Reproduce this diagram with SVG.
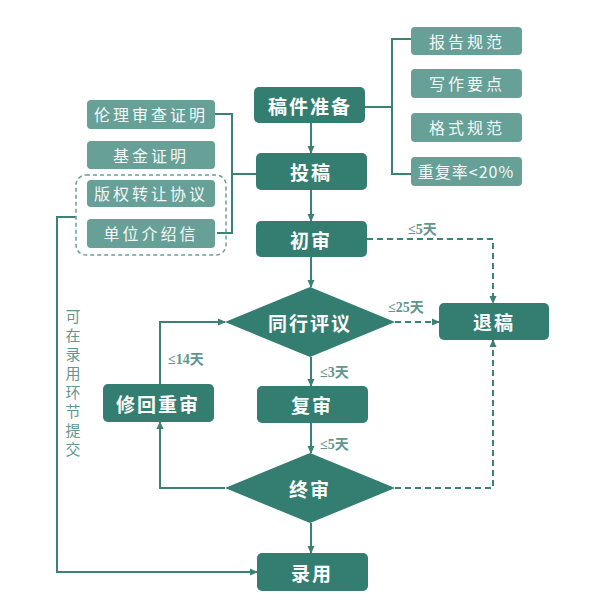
<svg xmlns="http://www.w3.org/2000/svg" width="594" height="613" viewBox="0 0 594 613">
<defs>
<style>
.main{fill:#337d71}
.side{fill:#67a097}
.mt{font-family:"Noto Sans CJK SC",sans-serif;font-weight:bold;font-size:19px;fill:#ffffff;text-anchor:middle;dominant-baseline:central;letter-spacing:2px}
.st{font-family:"Noto Sans CJK SC",sans-serif;font-size:16px;fill:#f4f8f7;text-anchor:middle;dominant-baseline:central;letter-spacing:3px}
.lb{font-family:"Liberation Serif","Noto Sans CJK SC",serif;font-weight:bold;font-size:14px;fill:#5f968d;dominant-baseline:central}
.vt{font-family:"Noto Sans CJK SC",sans-serif;font-size:15px;fill:#5f968d;text-anchor:middle}
.ln{fill:none;stroke:#3b8174;stroke-width:2}
.ds{fill:none;stroke:#3b8174;stroke-width:2;stroke-dasharray:6,4}
</style>
<marker id="ar" markerWidth="8" markerHeight="8" refX="7" refY="4" orient="auto" markerUnits="userSpaceOnUse">
<path d="M0,0.5 L8,4 L0,7.5 Z" fill="#3b8174"/>
</marker>
</defs>
<rect width="594" height="613" fill="#ffffff"/>
<g id="connectors">
<path class="ln" d="M311,123 V153" marker-end="url(#ar)"/>
<path class="ln" d="M365,107 H392 M411,39 H392 V174 H411"/>
<path class="ln" d="M215,114 H232 V233 H217 M232,174 H256"/>
<path class="ln" d="M311,190 V221" marker-end="url(#ar)"/>
<path class="ln" d="M311,257 V287" marker-end="url(#ar)"/>
<path class="ds" d="M367,239 H493 V303" marker-end="url(#ar)"/>
<path class="ds" d="M395,322 H439" marker-end="url(#ar)"/>
<path class="ln" d="M311,357 V386" marker-end="url(#ar)"/>
<path class="ln" d="M311,423 V453" marker-end="url(#ar)"/>
<path class="ds" d="M395,488 H493 V340" marker-end="url(#ar)"/>
<path class="ln" d="M311,523 V553" marker-end="url(#ar)"/>
<path class="ln" d="M160,384 V322 H225" marker-end="url(#ar)"/>
<path class="ln" d="M225,488 H160 V422" marker-end="url(#ar)"/>
<path class="ln" d="M76,217 H57 V572 H257" marker-end="url(#ar)"/>
</g>
<g id="labels">
<text class="lb" x="408" y="229">≤5天</text>
<text class="lb" x="388" y="307">≤25天</text>
<text class="lb" x="168" y="359">≤14天</text>
<text class="lb" x="320" y="372">≤3天</text>
<text class="lb" x="320" y="444">≤5天</text>
<text class="vt"><tspan x="73" y="322">可</tspan><tspan x="73" y="341">在</tspan><tspan x="73" y="360">录</tspan><tspan x="73" y="379">用</tspan><tspan x="73" y="398">环</tspan><tspan x="73" y="417">节</tspan><tspan x="73" y="436">提</tspan><tspan x="73" y="455">交</tspan></text>
</g>
<g id="n-gjzb"><rect class="main" x="254" y="87" width="111" height="36" rx="5"/><text class="mt" x="310" y="105">稿件准备</text></g>
<g id="n-tg"><rect class="main" x="256" y="153" width="111" height="37" rx="5"/><text class="mt" x="311" y="171">投稿</text></g>
<g id="n-cs"><rect class="main" x="256" y="221" width="111" height="36" rx="5"/><text class="mt" x="311" y="239">初审</text></g>
<g id="n-thpy"><path class="main" d="M310,287 L395,322 L310,357 L225,322 Z"/><text class="mt" x="310" y="322">同行评议</text></g>
<g id="n-tuigao"><rect class="main" x="439" y="303" width="110" height="37" rx="5"/><text class="mt" x="494" y="321">退稿</text></g>
<g id="n-xhcs"><rect class="main" x="103" y="384" width="111" height="38" rx="5"/><text class="mt" x="158" y="403">修回重审</text></g>
<g id="n-fs"><rect class="main" x="257" y="386" width="111" height="37" rx="5"/><text class="mt" x="312" y="404">复审</text></g>
<g id="n-zs"><path class="main" d="M310,453 L395,488 L310,523 L225,488 Z"/><text class="mt" x="310" y="488">终审</text></g>
<g id="n-ly"><rect class="main" x="257" y="553" width="111" height="38" rx="5"/><text class="mt" x="312" y="572">录用</text></g>
<g id="n-bggf"><rect class="side" x="411" y="27" width="111" height="28" rx="4"/><text class="st" x="467" y="41">报告规范</text></g>
<g id="n-xzyd"><rect class="side" x="411" y="69" width="111" height="29" rx="4"/><text class="st" x="467" y="83">写作要点</text></g>
<g id="n-gsgf"><rect class="side" x="411" y="113" width="111" height="29" rx="4"/><text class="st" x="467" y="127">格式规范</text></g>
<g id="n-cfl"><rect class="side" x="411" y="157" width="111" height="29" rx="4"/><text class="st" x="466" y="171" style="letter-spacing:1px">重复率&lt;20%</text></g>
<g id="n-llsc"><rect class="side" x="87" y="100" width="128" height="29" rx="4"/><text class="st" x="151" y="114">伦理审查证明</text></g>
<g id="n-jjzm"><rect class="side" x="87" y="141" width="128" height="28" rx="4"/><text class="st" x="151" y="155">基金证明</text></g>
<g id="n-group"><rect x="76" y="175" width="150" height="80" rx="10" fill="none" stroke="#67a097" stroke-width="1.5" stroke-dasharray="4,3"/></g>
<g id="n-bqzr"><rect class="side" x="87" y="180" width="128" height="27" rx="4"/><text class="st" x="151" y="193">版权转让协议</text></g>
<g id="n-dwjs"><rect class="side" x="87" y="219" width="128" height="29" rx="4"/><text class="st" x="151" y="233">单位介绍信</text></g>
</svg>
